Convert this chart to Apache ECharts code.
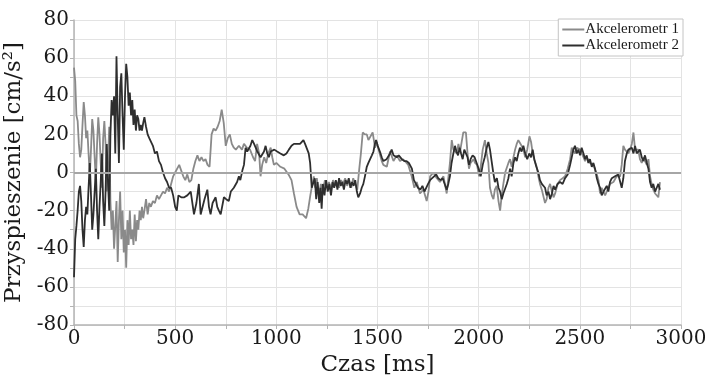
<!DOCTYPE html>
<html>
<head>
<meta charset="utf-8">
<script src="https://cdn.jsdelivr.net/npm/echarts@6/dist/echarts.min.js"></script>
<style>
html, body { margin: 0; padding: 0; background: #ffffff; }
#chart { width: 705px; height: 375px; }
</style>
</head>
<body>
<div id="chart"></div>
<script>
// Series labels
const seriesNames = ['Akcelerometr 1', 'Akcelerometr 2'];

// Axis ranges
const timeRange = [0, 3000];
const accRange = [-80, 80];

// Accelerometer 1 readings: [time ms, acceleration cm/s²]
const akcelerometr1 = [
  [0,55],[6,48],[12,30],[18,27],[24,15],[30,8],[36,12],[42,25],[48,37],[54,30],[60,18],[66,22],[72,10],[78,-2],[84,12],[90,28],[96,22],[102,8],[108,-5],[114,15],[120,29],[126,20],[132,5],[138,-8],[144,18],[150,27],[156,15],[162,-10],[168,5],[174,24],[180,-15],[186,-30],[192,-20],[198,-40],[204,-28],[210,-15],[216,-47],[222,-25],[228,-10],[234,-35],[240,-20],[246,-42],[252,-30],[258,-50],[264,-25],[270,-38],[276,-20],[282,-35],[288,-30],[294,-38],[300,-22],[306,-36],[312,-25],[318,-30],[324,-20],[330,-25],[336,-18],[342,-24],[348,-20],[356,-14],[364,-22],[372,-16],[380,-18],[390,-15],[400,-16],[410,-12],[420,-14],[430,-12],[440,-10],[450,-11],[460,-8],[470,-10],[480,-6],[490,-2],[500,0],[510,2],[520,4],[530,1],[540,-2],[550,-4],[560,-1],[570,-5],[580,-4],[590,2],[600,6],[610,9],[620,6],[630,8],[640,6],[650,7],[660,4],[670,3],[680,20],[690,23],[700,22],[710,24],[720,27],[730,33],[740,26],[750,14],[760,18],[770,20],[780,15],[790,13],[800,12],[815,14],[830,12],[840,15],[855,13],[870,12],[885,8],[895,6],[905,15],[915,10],[922,-2],[930,4],[940,8],[950,5],[960,10],[972,13],[980,8],[988,4],[1000,5],[1020,3],[1040,2],[1060,-1],[1075,-4],[1087,-11],[1100,-18],[1115,-22],[1130,-22],[1147,-24],[1158,-19],[1168,-12],[1178,-6],[1185,-2],[1192,-8],[1200,-3],[1210,-12],[1220,-6],[1230,-10],[1240,-4],[1250,-8],[1260,-5],[1270,-9],[1280,-4],[1290,-7],[1300,-5],[1310,-8],[1320,-4],[1330,-6],[1340,-3],[1350,-7],[1360,-4],[1370,-8],[1380,-3],[1390,-6],[1400,-9],[1410,2],[1418,10],[1427,21],[1437,20],[1447,20],[1455,17],[1463,18],[1476,21],[1488,13],[1496,16],[1504,16],[1513,9],[1521,6],[1529,4],[1546,3],[1562,11],[1579,6],[1595,9],[1611,6],[1625,7],[1636,6],[1652,4],[1669,-2],[1682,-8],[1694,-5],[1710,-11],[1727,-9],[1743,-15],[1752,-10],[1760,-2],[1776,0],[1793,-3],[1809,-5],[1826,-2],[1842,-11],[1858,5],[1867,17],[1875,12],[1883,13],[1892,10],[1900,15],[1908,11],[1916,10],[1924,21],[1930,20],[1937,21],[1945,10],[1952,2],[1960,5],[1966,6],[1975,7],[1982,5],[1992,4],[2002,-2],[2010,3],[2020,12],[2031,17],[2040,10],[2048,5],[2056,-8],[2065,-12],[2073,-14],[2080,-9],[2089,-7],[2098,-15],[2106,-20],[2114,-12],[2122,-6],[2131,0],[2139,1],[2147,5],[2155,7],[2163,3],[2172,8],[2180,12],[2188,15],[2196,17],[2204,18],[2212,14],[2221,12],[2230,8],[2240,12],[2251,19],[2259,16],[2267,10],[2277,6],[2287,3],[2295,-2],[2303,-6],[2312,-9],[2320,-10],[2328,-16],[2336,-14],[2345,-8],[2353,-6],[2362,-10],[2370,-13],[2378,-11],[2390,-6],[2402,-4],[2415,-3],[2427,-2],[2440,2],[2452,7],[2460,13],[2468,12],[2476,10],[2485,13],[2493,14],[2501,12],[2509,11],[2518,8],[2526,6],[2534,8],[2542,7],[2550,5],[2559,6],[2567,4],[2575,3],[2584,-1],[2592,-4],[2600,-11],[2608,-8],[2617,-9],[2625,-12],[2633,-13],[2641,-8],[2649,-6],[2658,-7],[2666,-5],[2674,-4],[2682,-2],[2690,-3],[2699,-2],[2707,4],[2715,14],[2723,12],[2732,11],[2740,10],[2748,12],[2757,15],[2765,21],[2773,12],[2781,13],[2789,12],[2797,7],[2806,5],[2814,8],[2822,6],[2831,4],[2839,7],[2847,-2],[2855,-6],[2863,-9],[2872,-11],[2880,-10],[2888,-13],[2896,-5]
];

// Accelerometer 2 readings: [time ms, acceleration cm/s²]
const akcelerometr2 = [
  [0,-55],[6,-35],[12,-28],[18,-20],[24,-10],[30,-7],[36,-15],[42,-30],[48,-39],[54,-25],[60,-18],[66,-22],[72,-8],[78,5],[84,-12],[90,-30],[96,-22],[102,-10],[108,2],[114,-20],[120,-35],[126,-18],[132,-5],[138,10],[144,-15],[150,-28],[156,-10],[162,15],[168,-5],[174,-20],[180,20],[186,38],[192,30],[198,40],[204,10],[210,61],[216,30],[222,5],[228,45],[234,52],[240,30],[246,12],[252,40],[258,57],[264,50],[270,35],[276,42],[282,30],[288,38],[294,25],[300,33],[306,22],[312,30],[318,28],[324,22],[330,25],[336,22],[342,26],[348,29],[356,24],[364,20],[372,18],[380,17],[390,14],[400,10],[410,11],[420,6],[430,4],[440,0],[450,-3],[460,-5],[470,-8],[480,-8],[490,-12],[500,-18],[508,-20],[516,-12],[530,-13],[545,-13],[560,-12],[577,-10],[593,-22],[605,-16],[617,-6],[626,-22],[634,-22],[645,-14],[659,-9],[667,-18],[675,-22],[685,-16],[700,-13],[708,-18],[716,-20],[725,-22],[732,-23],[741,-13],[752,-14],[765,-15],[775,-10],[782,-9],[790,-8],[798,-9],[806,-5],[815,-2],[822,-4],[832,1],[840,4],[848,13],[856,11],[864,12],[872,14],[881,17],[890,15],[898,13],[906,11],[914,10],[922,8],[930,7],[939,11],[947,14],[955,10],[963,8],[972,11],[980,10],[990,12],[1004,11],[1020,10],[1037,9],[1050,10],[1062,12],[1075,14],[1087,15],[1101,15],[1117,15],[1134,17],[1142,15],[1150,14],[1160,10],[1167,5],[1175,-8],[1183,-9],[1190,-3],[1197,-14],[1204,-5],[1212,-16],[1218,-8],[1224,-19],[1230,-6],[1238,-12],[1246,-4],[1254,-10],[1262,-6],[1270,-12],[1278,-5],[1286,-8],[1294,-4],[1302,-9],[1310,-3],[1318,-7],[1326,-5],[1334,-9],[1342,-4],[1350,-6],[1358,-3],[1366,-8],[1374,-5],[1382,-7],[1390,-4],[1398,-10],[1405,-13],[1414,-11],[1422,-8],[1430,-6],[1438,-2],[1447,3],[1455,5],[1463,6],[1472,9],[1480,11],[1487,15],[1493,17],[1501,14],[1509,13],[1515,10],[1521,8],[1529,6],[1537,5],[1545,7],[1554,8],[1562,10],[1570,12],[1579,9],[1587,10],[1595,8],[1605,9],[1620,7],[1632,6],[1644,6],[1655,5],[1661,6],[1670,2],[1680,-4],[1690,-6],[1700,-8],[1712,-9],[1722,-7],[1732,-10],[1740,-9],[1750,-6],[1760,-4],[1770,-3],[1780,-2],[1790,-1],[1800,-3],[1812,-4],[1822,-3],[1832,-6],[1842,-9],[1850,-6],[1858,-2],[1866,5],[1875,10],[1883,14],[1890,11],[1898,9],[1906,13],[1913,10],[1921,7],[1929,12],[1937,10],[1945,8],[1952,4],[1960,7],[1970,9],[1980,8],[1990,5],[2000,2],[2010,-2],[2020,4],[2030,8],[2040,13],[2048,16],[2056,12],[2064,6],[2072,0],[2080,-5],[2090,-3],[2098,-8],[2106,-10],[2114,-14],[2122,-11],[2130,-12],[2139,-6],[2147,-3],[2155,2],[2163,-2],[2172,5],[2180,8],[2188,6],[2196,10],[2204,13],[2212,11],[2221,14],[2230,10],[2240,7],[2250,10],[2259,8],[2267,12],[2275,7],[2285,3],[2295,0],[2303,-4],[2312,-6],[2320,-5],[2328,-8],[2336,-12],[2345,-10],[2353,-14],[2362,-11],[2370,-7],[2378,-9],[2390,-6],[2402,-5],[2415,-6],[2427,-3],[2440,-1],[2452,4],[2460,8],[2468,12],[2476,14],[2485,10],[2493,12],[2501,9],[2509,13],[2518,10],[2526,7],[2534,9],[2542,5],[2550,7],[2559,3],[2567,5],[2575,2],[2584,-3],[2592,-6],[2600,-8],[2608,-12],[2617,-10],[2625,-9],[2633,-7],[2641,-10],[2649,-5],[2658,-3],[2666,-4],[2674,-2],[2682,-3],[2690,-1],[2699,-2],[2707,-8],[2715,-3],[2723,6],[2732,10],[2740,12],[2748,11],[2757,13],[2765,10],[2773,14],[2781,10],[2789,9],[2797,12],[2806,8],[2814,6],[2822,9],[2831,5],[2839,2],[2847,-5],[2855,-8],[2863,-6],[2872,-10],[2880,-8],[2888,-6],[2896,-9]
];

const axisFont = 'DejaVu Serif';
const legendFont = 'Liberation Serif';
const textColor = '#1a1a1a';
const gridColor = '#e3e3e3';
const axisColor = '#b4b4b4';

const chart = echarts.init(document.getElementById('chart'), null, { renderer: 'canvas' });

chart.setOption({
  animation: false,
  backgroundColor: '#ffffff',
  grid: { left: 74, right: 24, top: 20, bottom: 50, containLabel: false, outerBoundsMode: 'none' },
  legend: {
    data: seriesNames,
    orient: 'vertical',
    right: 22,
    top: 19,
    backgroundColor: '#ffffff',
    borderColor: '#c4c4c4',
    borderWidth: 1,
    padding: [3, 4, 3, 4],
    itemGap: 1,
    icon: 'rect',
    itemWidth: 22,
    itemHeight: 2,
    textStyle: { fontFamily: legendFont, fontSize: 15, color: textColor, padding: [0, 0, 0, -4] }
  },
  xAxis: {
    type: 'value',
    min: timeRange[0],
    max: timeRange[1],
    interval: 250,
    name: 'Czas [ms]',
    nameLocation: 'middle',
    nameGap: 25,
    nameTextStyle: { fontFamily: axisFont, fontSize: 23, color: textColor, verticalAlign: 'top' },
    axisLine: { show: true, onZero: false, lineStyle: { color: axisColor, width: 1.5 } },
    axisTick: { show: true, length: 4, lineStyle: { color: axisColor } },
    axisLabel: {
      fontFamily: axisFont, fontSize: 20, color: textColor, margin: 4,
      formatter: v => (v % 500 === 0 ? String(v) : '')
    },
    splitLine: { show: true, lineStyle: { color: gridColor, width: 1 } }
  },
  yAxis: {
    type: 'value',
    min: accRange[0],
    max: accRange[1],
    interval: 10,
    name: 'Przyspieszenie [cm/s²]',
    nameLocation: 'middle',
    nameGap: 42,
    nameTextStyle: { fontFamily: axisFont, fontSize: 23, color: textColor },
    axisLine: { show: true, onZero: false, lineStyle: { color: axisColor, width: 1.5 } },
    axisTick: { show: true, length: 4, lineStyle: { color: axisColor } },
    axisLabel: {
      fontFamily: axisFont, fontSize: 20, color: textColor, margin: 5,
      formatter: v => (v % 20 === 0 ? String(v) : '')
    },
    splitLine: { show: true, lineStyle: { color: gridColor, width: 1 } }
  },
  series: [
    {
      name: seriesNames[0],
      type: 'line',
      data: akcelerometr1,
      symbol: 'none',
      lineStyle: { color: '#8a8a8a', width: 1.8 },
      itemStyle: { color: '#8a8a8a' },
      markLine: {
        silent: true,
        symbol: 'none',
        label: { show: false },
        lineStyle: { color: '#a6a6a6', width: 2, type: 'solid' },
        data: [{ yAxis: 0 }]
      }
    },
    {
      name: seriesNames[1],
      type: 'line',
      data: akcelerometr2,
      symbol: 'none',
      lineStyle: { color: '#2e2e2e', width: 1.8 },
      itemStyle: { color: '#2e2e2e' }
    }
  ]
});
</script>
</body>
</html>
